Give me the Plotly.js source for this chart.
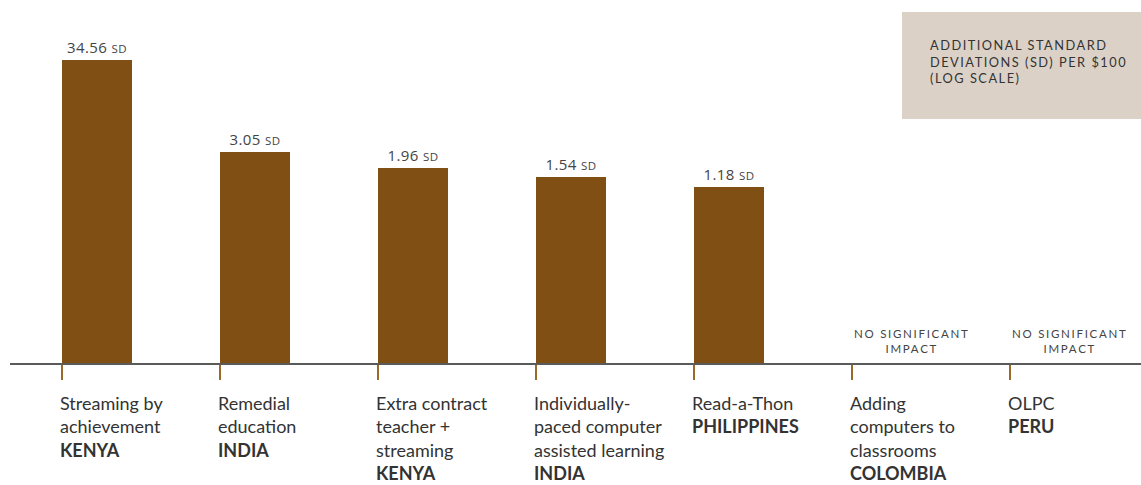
<!DOCTYPE html>
<html>
<head>
<meta charset="utf-8">
<script src="https://cdn.plot.ly/plotly-3.0.1.min.js"></script>
<style>
  html, body { margin: 0; padding: 0; background: #fff; }
  #chart { width: 1141px; height: 485px; }
  .annotation[data-index="0"] text, .annotation[data-index="1"] text { letter-spacing: 1.7px; }
  .annotation[data-index="2"] text { letter-spacing: 1.5px; }
  .bartext { letter-spacing: 0.4px; }
</style>
</head>
<body>
<div id="chart"></div>
<script>
// ---- data ----
const programs = [
  "Streaming by<br>achievement",
  "Remedial<br>education",
  "Extra contract<br>teacher +<br>streaming",
  "Individually-<br>paced computer<br>assisted learning",
  "Read-a-Thon",
  "Adding<br>computers to<br>classrooms",
  "OLPC"
];
const countries = ["KENYA", "INDIA", "KENYA", "INDIA", "PHILIPPINES", "COLOMBIA", "PERU"];
const sdPer100 = [34.56, 3.05, 1.96, 1.54, 1.18, null, null];
const noImpactText = "NO SIGNIFICANT<br>IMPACT";
const legendText = "ADDITIONAL STANDARD<br>DEVIATIONS (SD) PER $100<br>(LOG SCALE)";

const barColor = "#7f4f14";

const trace = {
  type: "bar",
  x: programs,
  y: sdPer100,
  marker: { color: barColor },
  width: 0.443,
  offset: 0,
  text: sdPer100.map(v => v == null ? "" : v.toFixed(2) + ' <span style="font-size:11.5px">SD</span>'),
  textposition: "outside",
  textfont: { family: "Open Sans, sans-serif", size: 15, color: "#444" },
  cliponaxis: false,
  hoverinfo: "skip"
};

const annotations = [];
// no-significant-impact notes (index 0,1) and legend text (index 2)
sdPer100.forEach((v, i) => {
  if (v == null) {
    annotations.push({
      x: programs[i], xref: "x", y: 0, yref: "paper",
      xanchor: "center", yanchor: "bottom", xshift: 60, yshift: 6,
      text: noImpactText, showarrow: false, align: "center",
      font: { family: "Lato, sans-serif", size: 11.5, color: "#444" }
    });
  }
});
annotations.push({
  x: 928, xref: "paper", y: 1, yref: "paper", showarrow: false,
  text: legendText, align: "left", xanchor: "left", yanchor: "top", yshift: -35,
  font: { family: "Lato, sans-serif", size: 12.8, color: "#333" }
});
programs.forEach((p, i) => {
  annotations.push({
    x: p, xref: "x", y: 0, yref: "paper",
    xanchor: "left", yanchor: "top", xshift: -4, yshift: -27,
    text: p + "<br><b>" + countries[i] + "</b>", showarrow: false, align: "left",
    font: { family: "Lato, sans-serif", size: 18, color: "#333" }
  });
});

const W = 1141, ML = 10;
// convert legend pixel x to paper
annotations.forEach(a => { if (a.xref === "paper") a.x = (a.x - ML) / (W - ML); });

const layout = {
  width: 1141, height: 485,
  margin: { l: ML, r: 0, t: 0, b: 122 },
  paper_bgcolor: "#fff", plot_bgcolor: "#fff",
  showlegend: false,
  bargap: 0,
  xaxis: {
    type: "category",
    range: [-0.329, 6.829],
    showline: true, linecolor: "#5a5a5a", linewidth: 1.5,
    ticks: "outside", ticklen: 15, tickwidth: 2, tickcolor: "#9a6a2a",
    showticklabels: false, showgrid: false, zeroline: false, fixedrange: true
  },
  yaxis: {
    type: "log",
    range: [-1.96, 2.236],
    showticklabels: false, showgrid: false, zeroline: false, showline: false, ticks: "", fixedrange: true
  },
  shapes: [{
    type: "rect", xref: "paper", yref: "paper",
    x0: (902 - ML) / (W - ML), x1: 1, y0: 1 - 119 / 363, y1: 1 - 12 / 363,
    fillcolor: "#dcd1c6", line: { width: 0 }, layer: "below"
  }],
  annotations: annotations
};

Plotly.newPlot("chart", [trace], layout, { staticPlot: true, displayModeBar: false });
</script>
</body>
</html>
